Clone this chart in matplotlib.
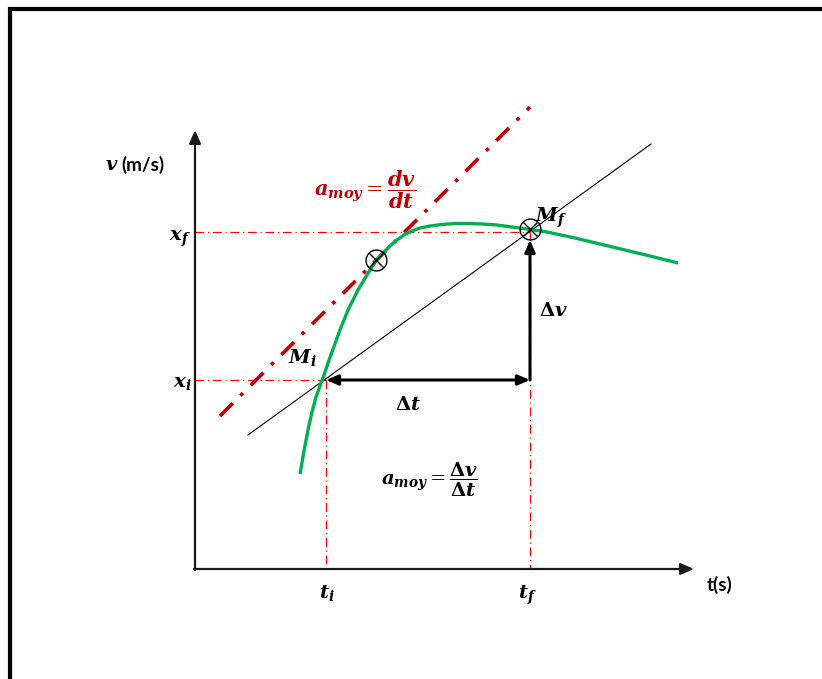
import matplotlib

matplotlib.use("Agg")
import matplotlib.pyplot as plt

plt.rcParams["mathtext.fontset"] = "dejavuserif"

# Diagram coordinates (image-like units: x to the right, y downward)
origin = (195, 569)
y_axis_top = 130
x_axis_end = 694

# velocity curve v(t)
curve_t = [300, 304, 308, 312, 316, 320, 324, 328, 332, 336, 340, 344,
           348, 353, 358, 364, 370, 376, 383, 390, 397, 404, 412, 420,
           430, 442, 455, 468, 482, 497, 512, 527, 547, 575, 600, 625,
           650, 678]
curve_v = [474, 451, 430, 412, 397, 386, 375, 363, 352, 341, 330, 320,
           310, 300, 290, 280, 270, 261, 253, 246, 240, 235, 231, 228,
           226, 224.5, 223.5, 223.5, 224, 225, 227, 229, 232, 238, 244, 250,
           256, 263]

# chord through Mi and Mf, tangent at the marked point
chord_t = [248, 651]
chord_v = [435, 144]
tangent_t = [220, 530]
tangent_v = [416, 107]

t_i, t_f = 326, 530
x_i, x_f = 380, 232
tangent_point = (376, 260)
m_f = (530, 229)

fig = plt.figure(figsize=(8.22, 6.79), dpi=100)
ax = fig.add_axes([0, 0, 1, 1])
ax.set_xlim(0, 822)
ax.set_ylim(679, 0)
ax.axis("off")

# page frame
ax.plot([10, 10, 822], [679, 9, 9], color="black", lw=3, solid_joinstyle="miter")

# axes with arrow heads
arrow_kw = dict(arrowstyle="-|>,head_length=0.8,head_width=0.35",
                color="#1a1a1a", lw=1.6, shrinkA=0, shrinkB=0)
ax.annotate("", xy=(origin[0], y_axis_top), xytext=(origin[0], origin[1] + 1),
            arrowprops=arrow_kw)
ax.annotate("", xy=(x_axis_end, origin[1]), xytext=(origin[0] - 1, origin[1]),
            arrowprops=arrow_kw)

# projection guides
guide = dict(color="#ff0000", lw=0.9, dashes=(7, 3, 1, 3))
ax.plot([origin[0], t_f], [x_f, x_f], **guide)
ax.plot([origin[0], t_i], [x_i, x_i], **guide)
ax.plot([t_i, t_i], [x_i, origin[1]], **guide)
ax.plot([t_f, t_f], [x_f, origin[1]], **guide)

# chord and tangent
ax.plot(chord_t, chord_v, color="black", lw=0.8)
ax.plot(tangent_t, tangent_v, color="#c00000", lw=2.6, dashes=(5, 3, 1, 3))

# v(t)
ax.plot(curve_t, curve_v, color="#00b050", lw=2.4, solid_capstyle="butt",
        solid_joinstyle="round")

# Δt and Δv arrows
ax.annotate("", xy=(t_i, x_i), xytext=(t_f, x_i),
            arrowprops=dict(arrowstyle="<|-|>,head_length=0.7,head_width=0.3",
                            color="black", lw=2.2, shrinkA=0, shrinkB=0))
ax.annotate("", xy=(t_f, 240), xytext=(t_f, x_i),
            arrowprops=dict(arrowstyle="-|>,head_length=0.7,head_width=0.3",
                            color="black", lw=2.2, shrinkA=0, shrinkB=0))

# marked points
for px, py in [tangent_point, m_f]:
    ax.plot(px, py, marker="o", ms=15, mfc="none", mec="black", mew=1.0)
    ax.plot(px, py, marker="x", ms=10.5, mec="black", mew=1.0)

# labels
sans = dict(family="Lato", weight="bold", fontsize=13.5)
ax.text(105, 165, r"$\mathbfit{v}$", fontsize=14, ha="left", va="center")
ax.text(121, 165, "(m/s)", ha="left", va="center", **sans)
ax.text(707, 585, "t(s)", ha="left", va="center", **sans)

math = dict(fontsize=14, ha="center", va="center")
ax.text(180, 239, r"$\mathbfit{x}_{\mathbfit{f}}$", **math)
ax.text(182, 383, r"$\mathbfit{x}_{\mathbfit{i}}$", **math)
ax.text(327, 593, r"$\mathbfit{t}_{\mathbfit{i}}$", **math)
ax.text(527, 595, r"$\mathbfit{t}_{\mathbfit{f}}$", **math)
ax.text(302, 358, r"$\mathbfit{M}_{\mathbfit{i}}$", **math)
ax.text(551, 218, r"$\mathbfit{M}_{\mathbfit{f}}$", **math)
ax.text(553, 310, r"$\mathbf{\Delta}\mathbfit{v}$", **math)
ax.text(408, 405, r"$\mathbf{\Delta}\mathbfit{t}$", **math)
ax.text(430, 480,
        r"$\mathbfit{a}_{\mathbfit{moy}} = \dfrac{\mathbf{\Delta}\mathbfit{v}}{\mathbf{\Delta}\mathbfit{t}}$",
        fontsize=14, ha="center", va="center")
ax.text(365, 190,
        r"$\mathbfit{a}_{\mathbfit{moy}} = \dfrac{\mathbfit{dv}}{\mathbfit{dt}}$",
        fontsize=15, ha="center", va="center", color="#c00000")

fig.savefig("out.png", dpi=100)
